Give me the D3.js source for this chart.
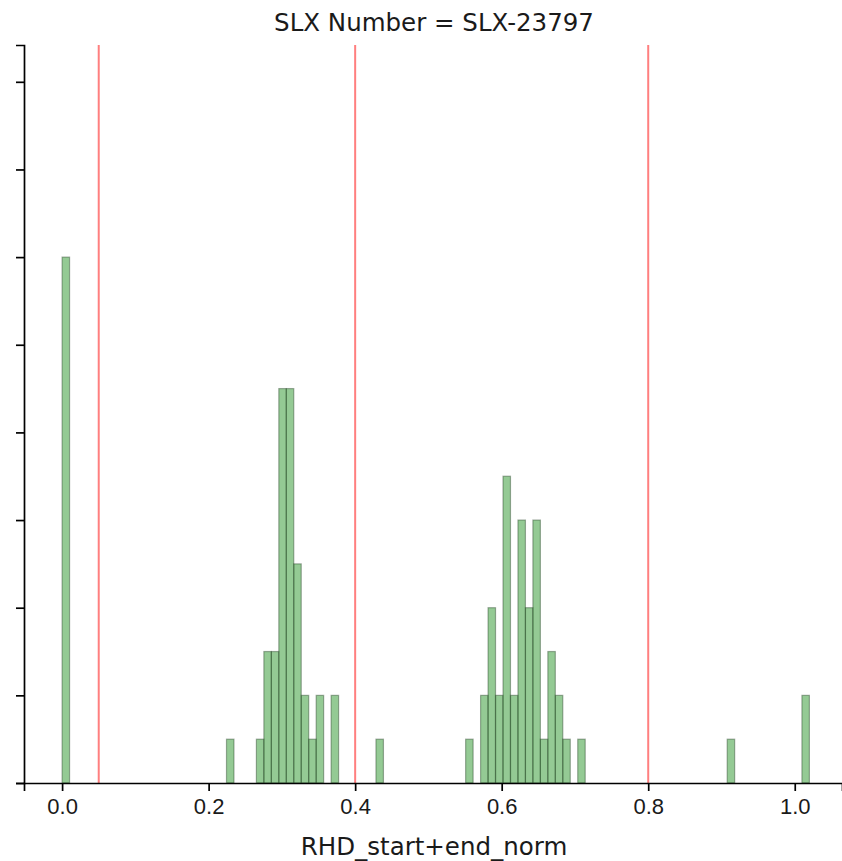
<!DOCTYPE html>
<html>
<head>
<meta charset="utf-8">
<script src="https://cdn.jsdelivr.net/npm/d3@7"></script>
<style>
  body { margin: 0; background: #fff; }
  svg { display: block; font-family: "DejaVu Sans", sans-serif; }
</style>
</head>
<body>
<script>
// histogram: 100 bins spanning [0, 1.02], only non-empty bins listed
const binCount = 100;
const valueMax = 1.02;
const binIndex = [0, 22, 26, 27, 28, 29, 30, 31, 32, 33, 34, 36, 42, 54, 56, 57, 58, 59, 60, 61, 62, 63, 64, 65, 66, 67, 69, 89, 99];
const binCounts = [12, 1, 1, 3, 3, 9, 9, 5, 2, 1, 2, 2, 1, 1, 2, 4, 2, 7, 2, 6, 4, 6, 1, 3, 2, 1, 1, 1, 2];
const thresholds = [0.05, 0.4, 0.8];
const xTicks = [0.0, 0.2, 0.4, 0.6, 0.8, 1.0];
const yTicks = [0, 2, 4, 6, 8, 10, 12, 14, 16];
const title = "SLX Number = SLX-23797";
const xLabel = "RHD_start+end_norm";

const width = 842, height = 861;
const margin = { top: 45, right: 0, bottom: 78, left: 24 };

const svg = d3.select("body").append("svg")
    .attr("width", width)
    .attr("height", height);

// x: 0 -> 62px, 1.0 -> 792.7px
const x = d3.scaleLinear()
    .domain([-0.0520, 1.0645])
    .range([margin.left, width - margin.right]);

const y = d3.scaleLinear()
    .domain([0, 16.84])
    .range([height - margin.bottom, margin.top]);

const binWidth = valueMax / binCount;
const bins = binIndex.map((b, i) => ({ x0: b * binWidth, x1: (b + 1) * binWidth, n: binCounts[i] }));

// bars
svg.append("g")
    .selectAll("rect")
    .data(bins)
    .join("rect")
    .attr("x", d => x(d.x0))
    .attr("y", d => y(d.n))
    .attr("width", d => x(d.x1) - x(d.x0))
    .attr("height", d => y(0) - y(d.n))
    .attr("fill", "#008000")
    .attr("fill-opacity", 0.42)
    .attr("stroke", "#1e3a1e")
    .attr("stroke-opacity", 0.4)
    .attr("stroke-width", 1.2);

// threshold lines
svg.append("g")
    .selectAll("line")
    .data(thresholds)
    .join("line")
    .attr("x1", d => x(d))
    .attr("x2", d => x(d))
    .attr("y1", y.range()[1])
    .attr("y2", y.range()[0])
    .attr("stroke", "#ff0000")
    .attr("stroke-opacity", 0.5)
    .attr("stroke-width", 2);

// x axis
const xAxis = svg.append("g")
    .attr("transform", `translate(0,${y(0)})`)
    .call(d3.axisBottom(x).tickValues(xTicks).tickFormat(d3.format(".1f")).tickSizeOuter(0).tickSize(8).tickPadding(7));
xAxis.select(".domain").attr("stroke", "#000").attr("stroke-width", 1.7);
xAxis.selectAll(".tick line").attr("stroke-width", 1.7);
xAxis.selectAll(".tick text").attr("font-size", 22).attr("fill", "#1a1a1a");

// y axis (no labels, shared with other facets)
const yAxis = svg.append("g")
    .attr("transform", `translate(${margin.left},0)`)
    .call(d3.axisLeft(y).tickValues(yTicks).tickFormat("").tickSizeOuter(0).tickSize(8));
yAxis.select(".domain").attr("stroke", "#000").attr("stroke-width", 1.7);
yAxis.selectAll(".tick line").attr("stroke-width", 1.7);

// title
svg.append("text")
    .attr("x", 434)
    .attr("y", 31)
    .attr("text-anchor", "middle")
    .attr("font-size", 24.5)
    .attr("fill", "#1a1a1a")
    .text(title);

// x label
svg.append("text")
    .attr("x", 434)
    .attr("y", 855)
    .attr("text-anchor", "middle")
    .attr("font-size", 24.5)
    .attr("fill", "#1a1a1a")
    .text(xLabel);
</script>
</body>
</html>
